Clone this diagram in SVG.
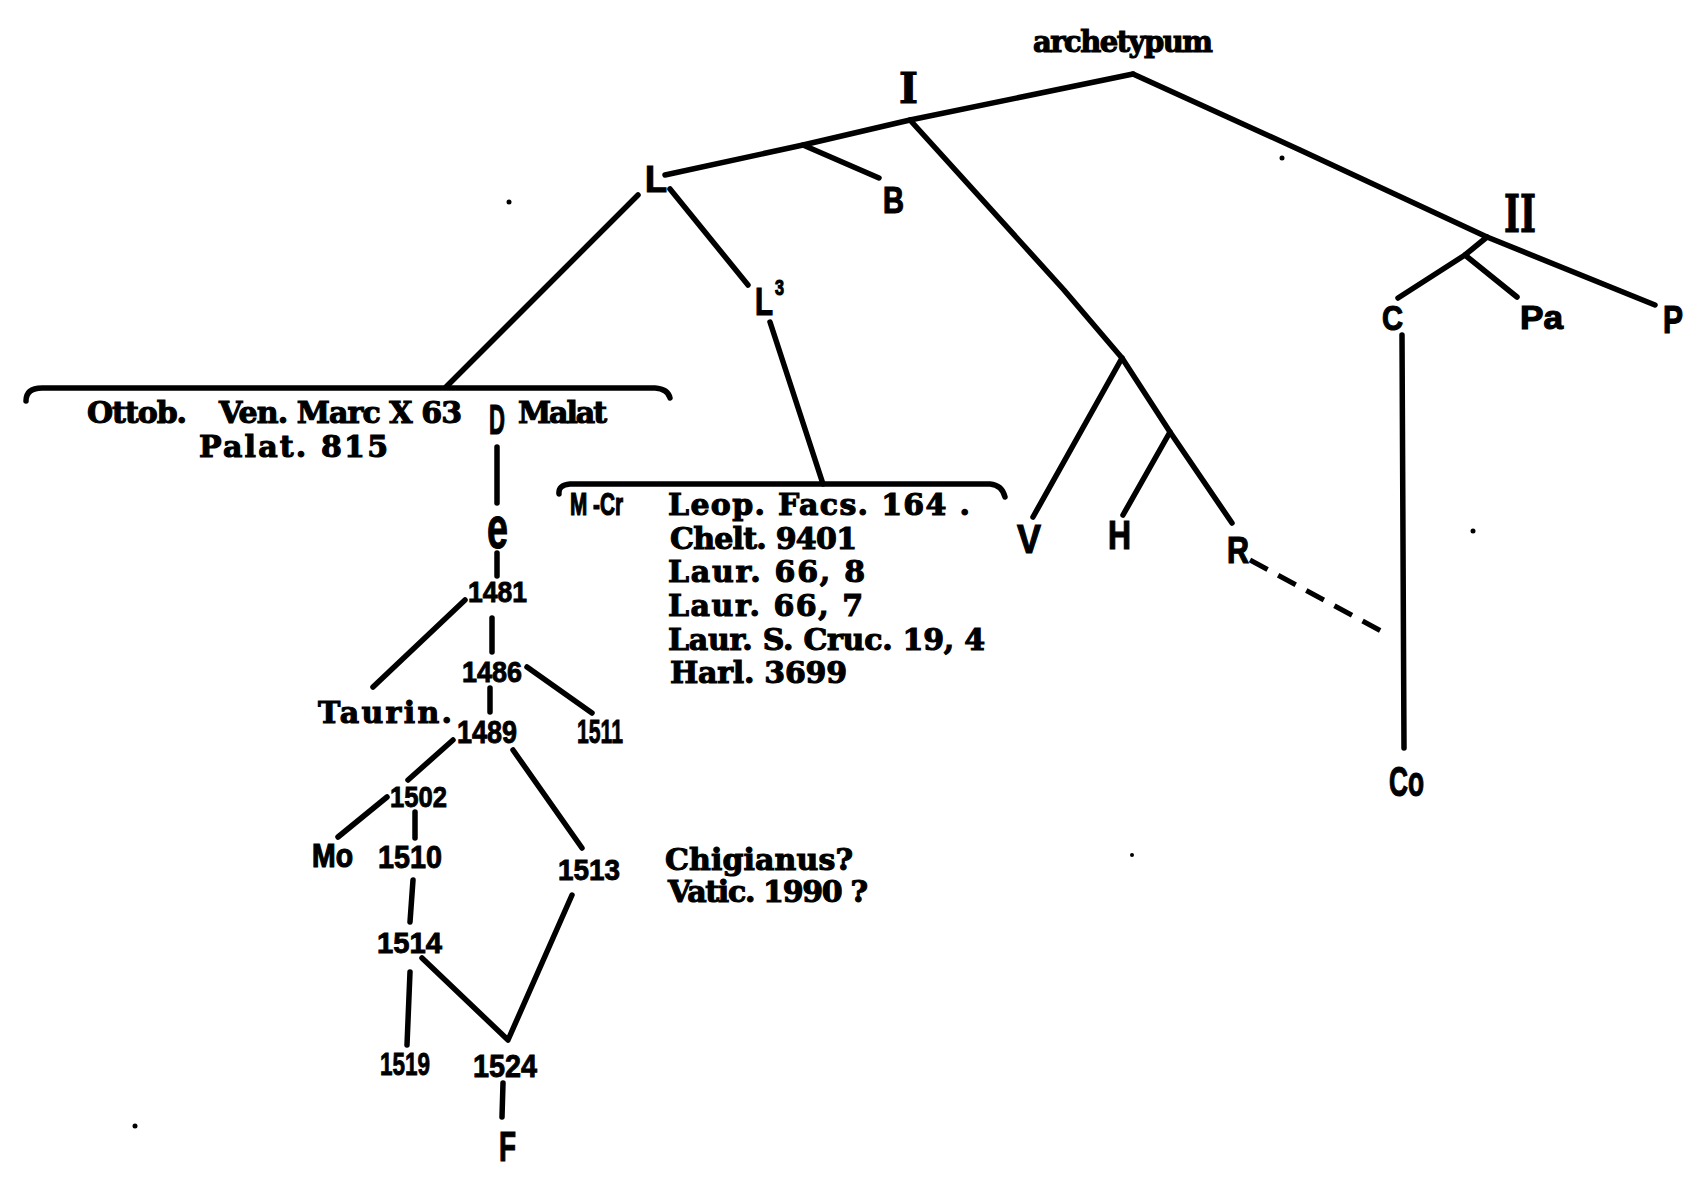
<svg xmlns="http://www.w3.org/2000/svg" width="1698" height="1181" viewBox="0 0 1698 1181">
<style>
.ln{fill:none;stroke:#000;stroke-width:5.5;stroke-linecap:round;stroke-linejoin:round}
.dash{fill:none;stroke:#000;stroke-width:5;stroke-dasharray:20 12}
.sf{font-family:"DejaVu Serif","Liberation Serif",serif;font-weight:bold;fill:#000;stroke:#000;stroke-width:1.1}
.ss{font-family:"Liberation Sans Narrow","Liberation Sans",sans-serif;font-weight:bold;fill:#000;stroke:#000;stroke-width:1.2}
.num{font-family:"Liberation Sans Narrow","Liberation Sans",sans-serif;font-weight:bold;fill:#000;stroke:#000;stroke-width:0.9}
</style>
<rect width="1698" height="1181" fill="#fff"/>
<g id="connectors">
<polyline class="ln" points="665,175 803,145 910,120 1133,74"/>
<polyline class="ln" points="1133,74 1300,150 1487,237 1655,305"/>
<line class="ln" x1="803" y1="145" x2="879" y2="178"/>
<polyline class="ln" points="910,120 1064,290 1122,358 1170,432 1232,523"/>
<line class="ln" x1="1122" y1="358" x2="1033" y2="517"/>
<line class="ln" x1="1170" y1="432" x2="1123" y2="515"/>
<line class="dash" x1="1250" y1="560" x2="1383" y2="632"/>
<polyline class="ln" points="1487,237 1465,255 1398,298"/>
<line class="ln" x1="1465" y1="255" x2="1517" y2="297"/>
<line class="ln" x1="1402" y1="335" x2="1404" y2="748"/>
<line class="ln" x1="638" y1="195" x2="446" y2="387"/>
<line class="ln" x1="670" y1="189" x2="748" y2="285"/>
<line class="ln" x1="770" y1="322" x2="823" y2="484"/>
<path class="ln" d="M26,401 Q26,388 42,388 L655,388 Q668,389 670,398"/>
<path class="ln" d="M559,494 Q558,485 570,484 L990,484 Q1002,485 1005,497"/>
<line class="ln" x1="497" y1="447" x2="497" y2="503"/>
<line class="ln" x1="497" y1="553" x2="497" y2="576"/>
<line class="ln" x1="465" y1="600" x2="373" y2="687"/>
<line class="ln" x1="492" y1="618" x2="492" y2="652"/>
<line class="ln" x1="527" y1="667" x2="592" y2="713"/>
<line class="ln" x1="490" y1="688" x2="490" y2="712"/>
<line class="ln" x1="453" y1="740" x2="408" y2="780"/>
<line class="ln" x1="513" y1="750" x2="582" y2="848"/>
<line class="ln" x1="387" y1="797" x2="338" y2="837"/>
<line class="ln" x1="415" y1="812" x2="415" y2="838"/>
<line class="ln" x1="413" y1="880" x2="410" y2="922"/>
<line class="ln" x1="410" y1="972" x2="407" y2="1045"/>
<polyline class="ln" points="422,958 508,1040 572,895"/>
<line class="ln" x1="503" y1="1083" x2="502" y2="1117"/>
</g>
<g id="specks" fill="#000">
<circle cx="509" cy="202" r="2.5"/>
<circle cx="1282" cy="158" r="2.5"/>
<circle cx="1473" cy="531" r="2.5"/>
<circle cx="1132" cy="855" r="2"/>
<circle cx="135" cy="1126" r="2.5"/>
</g>
<g id="n-archetypum"><text class="sf" x="1033" y="52" style="font-size:29px" textLength="180">archetypum</text></g>
<g id="n-I"><text class="sf" x="899" y="103" style="font-size:43px" textLength="19" lengthAdjust="spacingAndGlyphs">I</text></g>
<g id="n-II"><text class="sf" x="1504" y="232" style="font-size:53px" textLength="32" lengthAdjust="spacingAndGlyphs">II</text></g>
<g id="n-L"><text class="ss" x="645" y="192" style="font-size:36px" textLength="22" lengthAdjust="spacingAndGlyphs">L</text></g>
<g id="n-B"><text class="ss" x="883" y="213" style="font-size:36px" textLength="21" lengthAdjust="spacingAndGlyphs">B</text></g>
<g id="n-L3"><text class="ss" x="755" y="315" style="font-size:38px" textLength="18" lengthAdjust="spacingAndGlyphs">L</text><text class="ss" x="775" y="295" style="font-size:22px" textLength="9" lengthAdjust="spacingAndGlyphs">3</text></g>
<g id="n-V"><text class="ss" x="1017" y="553" style="font-size:41px" textLength="24" lengthAdjust="spacingAndGlyphs">V</text></g>
<g id="n-H"><text class="ss" x="1108" y="549" style="font-size:40px" textLength="23" lengthAdjust="spacingAndGlyphs">H</text></g>
<g id="n-R"><text class="ss" x="1227" y="563" style="font-size:37px" textLength="22" lengthAdjust="spacingAndGlyphs">R</text></g>
<g id="n-C"><text class="ss" x="1382" y="330" style="font-size:35px" textLength="21" lengthAdjust="spacingAndGlyphs">C</text></g>
<g id="n-Pa"><text class="ss" x="1520" y="329" style="font-size:33px" textLength="43" lengthAdjust="spacingAndGlyphs">Pa</text></g>
<g id="n-P"><text class="ss" x="1663" y="333" style="font-size:38px" textLength="20" lengthAdjust="spacingAndGlyphs">P</text></g>
<g id="n-Co"><text class="ss" x="1389" y="796" style="font-size:42px" textLength="35" lengthAdjust="spacingAndGlyphs">Co</text></g>
<g id="n-group1">
<text class="sf" x="87" y="423" style="font-size:30px" textLength="100">Ottob.</text>
<text class="sf" x="219" y="423" style="font-size:30px" textLength="243">Ven. Marc X 63</text>
<text class="sf" x="199" y="457" style="font-size:30px" textLength="189">Palat. 815</text>
</g>
<g id="n-D"><text class="ss" x="489" y="434" style="font-size:43px" textLength="16" lengthAdjust="spacingAndGlyphs">D</text></g>
<g id="n-Malat"><text class="sf" x="518" y="423" style="font-size:30px" textLength="89">Malat</text></g>
<g id="n-e"><text class="ss" x="487" y="548" style="font-size:60px" textLength="21" lengthAdjust="spacingAndGlyphs">e</text></g>
<g id="n-1481"><text class="num" x="468" y="602" style="font-size:30px" textLength="59" lengthAdjust="spacingAndGlyphs">1481</text></g>
<g id="n-Taurin"><text class="sf" x="318" y="723" style="font-size:30px" textLength="134">Taurin.</text></g>
<g id="n-1486"><text class="num" x="462" y="682" style="font-size:30px" textLength="60" lengthAdjust="spacingAndGlyphs">1486</text></g>
<g id="n-1511"><text class="num" x="577" y="743" style="font-size:34px" textLength="46" lengthAdjust="spacingAndGlyphs">1511</text></g>
<g id="n-1489"><text class="num" x="457" y="743" style="font-size:31px" textLength="60" lengthAdjust="spacingAndGlyphs">1489</text></g>
<g id="n-1502"><text class="num" x="390" y="807" style="font-size:30px" textLength="57" lengthAdjust="spacingAndGlyphs">1502</text></g>
<g id="n-Mo"><text class="ss" x="312" y="867" style="font-size:33px" textLength="41" lengthAdjust="spacingAndGlyphs">Mo</text></g>
<g id="n-1510"><text class="num" x="378" y="868" style="font-size:31px" textLength="64" lengthAdjust="spacingAndGlyphs">1510</text></g>
<g id="n-1513"><text class="num" x="558" y="880" style="font-size:30px" textLength="62" lengthAdjust="spacingAndGlyphs">1513</text></g>
<g id="n-1514"><text class="num" x="377" y="953" style="font-size:30px" textLength="65" lengthAdjust="spacingAndGlyphs">1514</text></g>
<g id="n-1519"><text class="num" x="380" y="1075" style="font-size:32px" textLength="50" lengthAdjust="spacingAndGlyphs">1519</text></g>
<g id="n-1524"><text class="num" x="473" y="1077" style="font-size:32px" textLength="64" lengthAdjust="spacingAndGlyphs">1524</text></g>
<g id="n-F"><text class="ss" x="499" y="1161" style="font-size:42px" textLength="17" lengthAdjust="spacingAndGlyphs">F</text></g>
<g id="n-group2">
<text class="ss" x="570" y="515" style="font-size:31px" textLength="53" lengthAdjust="spacingAndGlyphs">M -Cr</text>
<text class="sf" x="668" y="515" style="font-size:30px" textLength="302">Leop. Facs. 164 .</text>
<text class="sf" x="670" y="549" style="font-size:30px" textLength="187">Chelt. 9401</text>
<text class="sf" x="668" y="582" style="font-size:30px" textLength="197">Laur. 66, 8</text>
<text class="sf" x="668" y="616" style="font-size:30px" textLength="195">Laur. 66, 7</text>
<text class="sf" x="668" y="650" style="font-size:30px" textLength="317">Laur. S. Cruc. 19, 4</text>
<text class="sf" x="670" y="683" style="font-size:30px" textLength="177">Harl. 3699</text>
</g>
<g id="n-chigianus">
<text class="sf" x="665" y="870" style="font-size:30px" textLength="188">Chigianus?</text>
<text class="sf" x="668" y="902" style="font-size:30px" textLength="200">Vatic. 1990 ?</text>
</g>
</svg>
